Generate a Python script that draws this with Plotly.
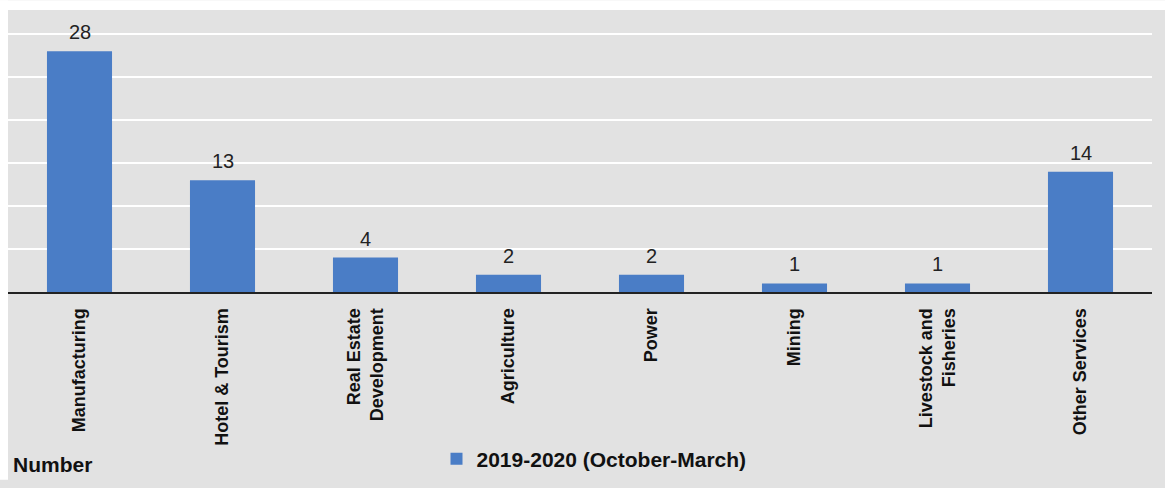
import plotly.graph_objects as go

categories = ["Manufacturing", "Hotel & Tourism", "Real Estate<br>Development", "Agriculture",
              "Power", "Mining", "Livestock and<br>Fisheries", "Other Services"]
values = [28, 13, 4, 2, 2, 1, 1, 14]
series_name = "2019-2020 (October-March)"
y_label = "Number"

W, H = 1165, 488
ml, mr, mt, mb = 8, 13, 10, 191
pw = W - ml - mr
ph = H - mt - mb

def px_x(x):
    return (x - ml) / pw

def px_y(y):
    return (H - mb - y) / ph

gray = "#e2e2e2"
blue = "#4a7dc6"
FONT = "Liberation Sans, Arial"

fig = go.Figure()
fig.add_trace(go.Bar(
    x=categories, y=values, name="<b>" + series_name + "</b>",
    marker=dict(color=blue, line=dict(width=0)),
    width=0.455, showlegend=True,
))

for c, v in zip(categories, values):
    fig.add_annotation(x=c, y=v, text=str(v), showarrow=False,
                       xanchor="center", yanchor="bottom", yshift=6,
                       font=dict(family=FONT, size=20, color="#222222"))

# white frame strips at top and left (kept inside the paper)
fig.add_shape(type="rect", xref="paper", yref="paper",
              x0=px_x(0), x1=px_x(W), y0=px_y(10), y1=px_y(0),
              fillcolor="white", line=dict(width=0), layer="below")
fig.add_shape(type="rect", xref="paper", yref="paper",
              x0=px_x(0), x1=px_x(8), y0=px_y(H), y1=px_y(0),
              fillcolor="white", line=dict(width=0), layer="below")

fig.add_annotation(text="<b>" + y_label + "</b>", xref="paper", yref="paper",
                   x=px_x(11), y=px_y(473), xanchor="left", yanchor="middle",
                   showarrow=False,
                   font=dict(family=FONT, size=21, color="#111111"))

fig.update_layout(
    width=W, height=H,
    margin=dict(l=ml, r=mr, t=mt, b=mb, pad=0),
    paper_bgcolor=gray, plot_bgcolor="rgba(0,0,0,0)",
    font=dict(family=FONT, color="#111111"),
    showlegend=True,
    legend=dict(orientation="h", x=px_x(594), y=px_y(467), xanchor="center", yanchor="middle",
                bgcolor="rgba(0,0,0,0)",
                font=dict(family=FONT, size=21, color="#111111"),
                itemwidth=30),
    xaxis=dict(showline=True, linecolor="#222222", linewidth=2, ticks="",
               tickangle=-90, showgrid=False, ticklabelstandoff=7,
               tickfont=dict(family=FONT, size=18, color="#111111"),
               ticktext=["<b>" + c + "</b>" for c in categories], tickvals=categories),
    yaxis=dict(range=[0, (H - mb - mt) / 8.75], showgrid=True, gridcolor="white", gridwidth=2,
               tick0=0, dtick=5, showticklabels=False, zeroline=False, ticks=""),
)

post = (
    "document.documentElement.style.margin='0';"
    "document.body.style.margin='0';"
    "document.body.style.padding='0';"
)
fig.write_html("out.html", config={"displayModeBar": False}, post_script=post)
